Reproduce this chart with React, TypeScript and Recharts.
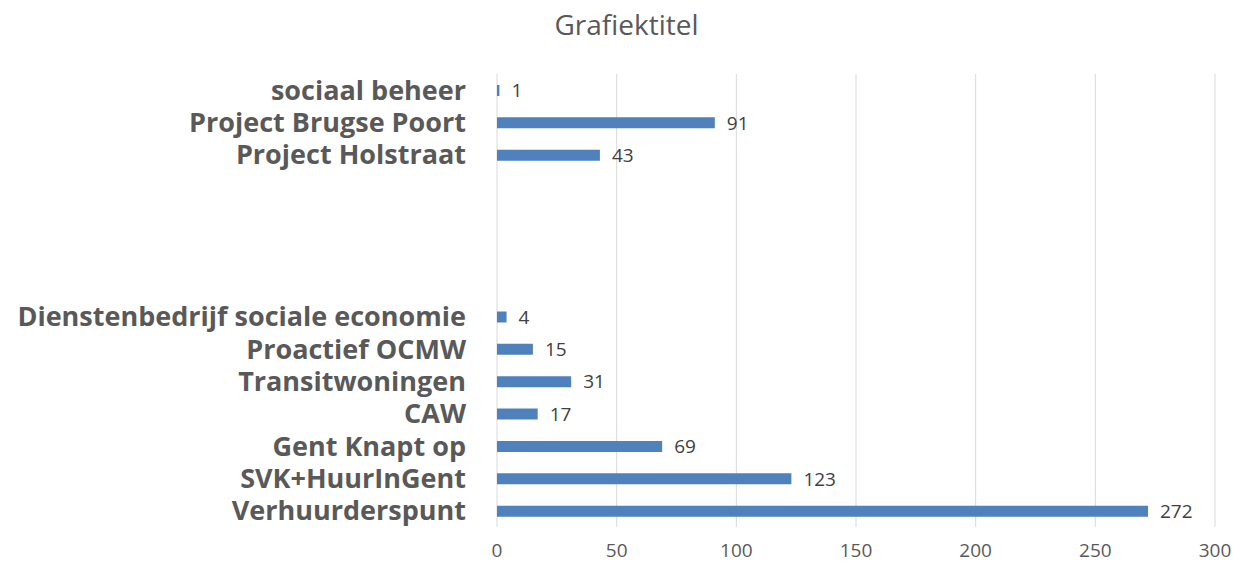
import { BarChart, Bar, XAxis, YAxis, CartesianGrid, LabelList } from "recharts";

const categories = [
  "sociaal beheer",
  "Project Brugse Poort",
  "Project Holstraat",
  "gap1",
  "gap2",
  "gap3",
  "gap4",
  "Dienstenbedrijf sociale economie",
  "Proactief OCMW",
  "Transitwoningen",
  "CAW",
  "Gent Knapt op",
  "SVK+HuurInGent",
  "Verhuurderspunt",
];

const values: (number | null)[] = [1, 91, 43, null, null, null, null, 4, 15, 31, 17, 69, 123, 272];

const xTicks = [0, 50, 100, 150, 200, 250, 300];

const data = categories.map((name, i) => ({ name, value: values[i] }));

const FONT = "'Open Sans', sans-serif";

export default function App() {
  return (
    <div style={{ position: "absolute", left: 0, top: 0, width: 1233, height: 563, background: "#fff" }}>
      <div
        style={{
          position: "absolute",
          top: 5,
          left: 0,
          width: 1253,
          textAlign: "center",
          fontFamily: FONT,
          fontSize: 28,
          color: "#595959",
        }}
      >
        Grafiektitel
      </div>
      <BarChart
        width={1233}
        height={563}
        data={data}
        layout="vertical"
        margin={{ top: 74, right: 18, bottom: 0, left: 0 }}
        barCategoryGap={0}
      >
        <CartesianGrid horizontal={false} stroke="#d9d9d9" />
        <XAxis
          type="number"
          domain={[0, 300]}
          ticks={xTicks}
          axisLine={false}
          tickLine={false}
          height={36}
          tickMargin={11}
          tick={{ fill: "#595959", fontSize: 19, fontFamily: FONT }}
        />
        <YAxis
          type="category"
          dataKey="name"
          width={497}
          axisLine={false}
          tickLine={false}
          tickSize={0}
          tickMargin={31}
          interval={0}
          tickFormatter={(v: string) => (v.startsWith("gap") ? "" : v)}
          tick={{ fill: "#595959", fontSize: 27, fontWeight: 700, fontFamily: FONT }}
        />
        <Bar dataKey="value" fill="#4f81bd" barSize={11} isAnimationActive={false}>
          <LabelList
            dataKey="value"
            position="right"
            offset={12}
            fill="#404040"
            fontSize={19}
            fontFamily={FONT}
          />
        </Bar>
      </BarChart>
    </div>
  );
}
